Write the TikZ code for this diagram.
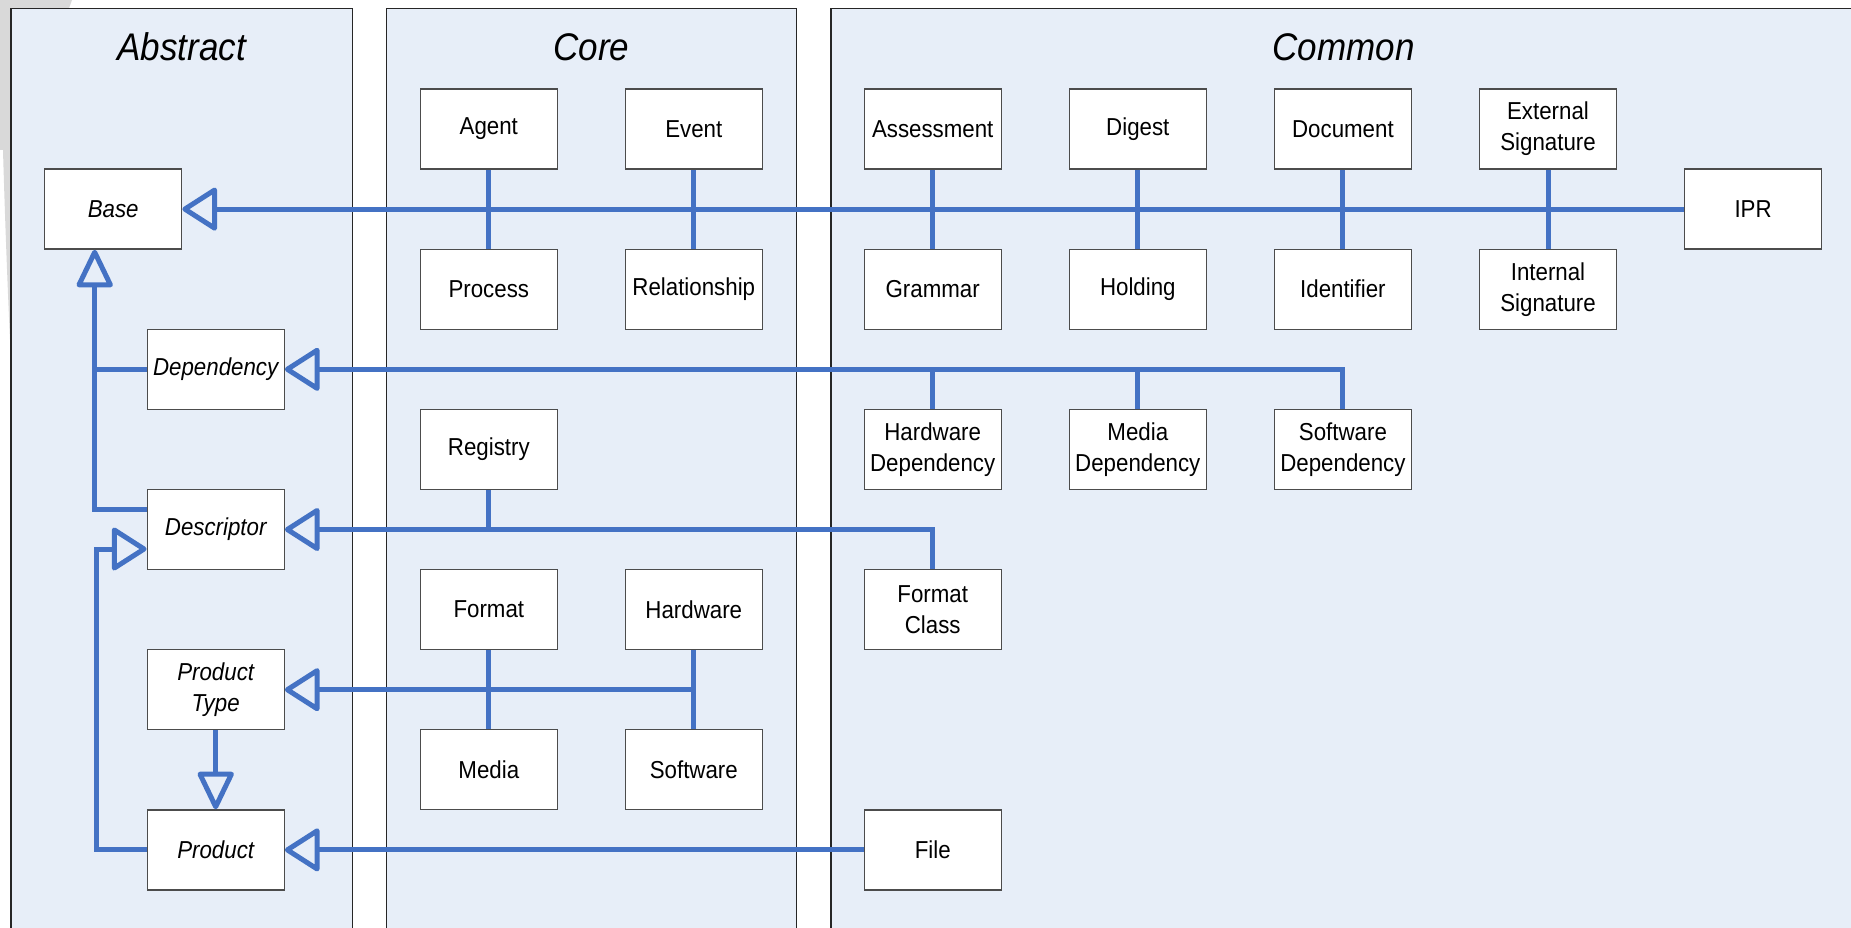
\documentclass[tikz,border=0pt]{standalone}
\usepackage{fontspec}
\setmainfont[FakeStretch=0.91]{Liberation Sans}
\usetikzlibrary{arrows.meta}
\definecolor{panelfill}{RGB}{231,238,248}
\definecolor{conncol}{RGB}{68,114,196}
\definecolor{decogray}{RGB}{217,217,217}
\begin{document}
\begin{tikzpicture}[x=1pt,y=-1pt,
  panel/.style={draw=black!85, line width=1.3pt, fill=panelfill},
  box/.style={draw=black!70, line width=1.3pt, fill=white, minimum width=137pt, minimum height=80pt, inner sep=0pt, align=center, font=\fontsize{24.5}{31}\selectfont},
  abox/.style={box, font=\fontsize{24.5}{31}\selectfont\itshape},
  ptitle/.style={font=\fontsize{38.5}{46}\selectfont\itshape, anchor=base, inner sep=0pt},
  conn/.style={draw=conncol, line width=5pt},
  inhH/.style={conn, -{Triangle[open, length=37pt, width=46pt, round]}},
  inhV/.style={conn, -{Triangle[open, length=41pt, width=38pt, round]}},
]
\useasboundingbox (0,0) rectangle (1851,927);
\clip (0,0) rectangle (1851,927);
\fill[white] (0,0) rectangle (1851,927);
% decorative grey
\fill[decogray] (0,0) -- (72,0) -- (69,8.3) -- (0,8.3) -- cycle;
\fill[decogray] (0,0) rectangle (11,150);
\fill[decogray] (3,150) -- (11,150) -- (11,360) .. controls (8,300) and (5,220) .. (3,150) -- cycle;
% panels
\draw[panel] (11,8.3) rectangle (352.3,945);
\draw[panel] (386.4,8.3) rectangle (796.7,945);
\draw[panel] (831,8.3) rectangle (1870,945);
\node[ptitle] (tAbstract) at (181.7,60) {Abstract};
\node[ptitle] (tCore) at (591.5,60) {Core};
\node[ptitle] (tCommon) at (1343.5,60) {Common};
% abstract boxes
\node[abox] (Base) at (113.2,209.1) {Base};
\node[abox] (Dependency) at (215.7,369.3) {Dependency};
\node[abox] (Descriptor) at (215.7,529.5) {Descriptor};
\node[abox] (ProductType) at (215.7,689.7) {Product\\Type};
\node[abox] (Product) at (215.7,849.9) {Product};
% core boxes
\node[box] (Agent) at (488.8,129) {Agent};
\node[box] (Event) at (693.8,129) {Event};
\node[box] (Process) at (488.8,289.2) {Process};
\node[box] (Relationship) at (693.8,289.2) {Relationship};
\node[box] (Registry) at (488.8,449.4) {Registry};
\node[box] (Format) at (488.8,609.6) {Format};
\node[box] (Hardware) at (693.8,609.6) {Hardware};
\node[box] (Media) at (488.8,769.8) {Media};
\node[box] (Software) at (693.8,769.8) {Software};
% common boxes
\node[box] (Assessment) at (932.7,129) {Assessment};
\node[box] (Digest) at (1137.8,129) {Digest};
\node[box] (Document) at (1342.9,129) {Document};
\node[box] (ExtSig) at (1548,129) {External\\Signature};
\node[box] (IPR) at (1753.1,209.1) {IPR};
\node[box] (Grammar) at (932.7,289.2) {Grammar};
\node[box] (Holding) at (1137.8,289.2) {Holding};
\node[box] (Identifier) at (1342.9,289.2) {Identifier};
\node[box] (IntSig) at (1548,289.2) {Internal\\Signature};
\node[box] (HardwareDep) at (932.7,449.4) {Hardware\\Dependency};
\node[box] (MediaDep) at (1137.8,449.4) {Media\\Dependency};
\node[box] (SoftwareDep) at (1342.9,449.4) {Software\\Dependency};
\node[box] (FormatClass) at (932.7,609.6) {Format\\Class};
\node[box] (File) at (932.7,849.9) {File};
% helper coordinates
\coordinate (trunkA) at ([xshift=-18.5pt]Base.south);
\coordinate (trunkB) at ([xshift=-16.5pt]Base.south);
\coordinate (descHi) at ([yshift=20.5pt]Descriptor.west);
\coordinate (descLo) at ([yshift=-19.5pt]Descriptor.west);
% Base hierarchy
\draw[inhH] (IPR.west) -- (Base.east);
\draw[conn] (Agent.south) -- (Process.north);
\draw[conn] (Event.south) -- (Relationship.north);
\draw[conn] (Assessment.south) -- (Grammar.north);
\draw[conn] (Digest.south) -- (Holding.north);
\draw[conn] (Document.south) -- (Identifier.north);
\draw[conn] (ExtSig.south) -- (IntSig.north);
% abstract trunk
\draw[inhV] (descHi) -| (trunkA);
\draw[conn] (Dependency.west) -- (Dependency.west -| trunkA);
\draw[inhH] (Product.west) -- (Product.west -| trunkB) -- (trunkB |- descLo) -- (descLo);
\draw[inhV] (ProductType.south) -- (Product.north);
% dependency
\draw[inhH] (SoftwareDep.north) |- (Dependency.east);
\draw[conn] (HardwareDep.north) -- (HardwareDep.north |- Dependency.east);
\draw[conn] (MediaDep.north) -- (MediaDep.north |- Dependency.east);
% descriptor
\draw[inhH] (FormatClass.north) |- (Descriptor.east);
\draw[conn] (Registry.south) -- (Registry.south |- Descriptor.east);
% product type
\draw[conn] (Format.south) -- (Media.north);
\draw[conn] (Hardware.south) -- (Software.north);
\draw[inhH] (Hardware.south |- ProductType.east) -- (ProductType.east);
% product
\draw[inhH] (File.west) -- (Product.east);
\end{tikzpicture}
\end{document}
